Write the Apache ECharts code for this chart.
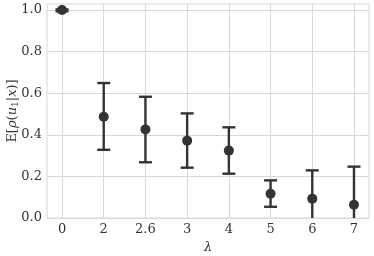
<!DOCTYPE html>
<html><head><meta charset="utf-8">
<script src="https://cdn.jsdelivr.net/npm/echarts@6/dist/echarts.min.js"></script>
<style>html,body{margin:0;padding:0;background:#fff}#c{width:374px;height:256px}</style>
</head><body><div id="c"></div>
<script>
const categories = ['0', '2', '2.6', '3', '4', '5', '6', '7'];
const means = [1.0, 0.487, 0.426, 0.372, 0.324, 0.117, 0.093, 0.064];
const lowers = [0.994, 0.328, 0.268, 0.242, 0.213, 0.054, -0.04, -0.12];
const uppers = [1.003, 0.649, 0.583, 0.503, 0.436, 0.181, 0.229, 0.247];
const yTicks = ['0.0', '0.2', '0.4', '0.6', '0.8', '1.0'];

const chart = echarts.init(document.getElementById('c'), null, {renderer: 'canvas'});
const FONT = '"DejaVu Serif", serif';
const GRID = '#d8d8d8';
const DARK = '#333333';
const pts = means.map((m, i) => [i, m]);
const bars = means.map((m, i) => [i, lowers[i], uppers[i]]);
const xPos = categories.map((c, i) => i);
const yPos = yTicks.map(t => parseFloat(t));

chart.setOption({
  animation: false,
  backgroundColor: '#fff',
  grid: {left: 47, right: 5, top: 4, bottom: 38, show: true, borderColor: GRID, borderWidth: 1,
         containLabel: false, outerBoundsMode: 'none'},
  xAxis: {
    type: 'value', min: -0.36, max: 7.36,
    name: 'λ', nameLocation: 'middle', nameGap: 23, nameMoveOverlap: false,
    nameTextStyle: {fontFamily: FONT, fontStyle: 'italic', fontSize: 13, color: DARK},
    axisLine: {show: true, lineStyle: {color: GRID}},
    axisTick: {show: false, customValues: xPos},
    splitLine: {show: true, customValues: xPos, lineStyle: {color: GRID, width: 1}},
    axisLabel: {
      fontFamily: FONT, fontSize: 13, color: DARK, margin: 5, customValues: xPos,
      formatter: v => categories[Math.round(v)]
    }
  },
  yAxis: {
    type: 'value', min: 0, max: 1.029,
    name: '{n|E[}{i|ρ}{n|(}{i|u}{s|1}{n||}{i|x}{n|)]}', nameLocation: 'middle', nameGap: 27, nameRotate: 90,
    nameMoveOverlap: false,
    nameTextStyle: {fontFamily: FONT, fontSize: 13, color: DARK,
      rich: {n: {fontFamily: FONT, fontSize: 13, color: DARK},
             i: {fontFamily: FONT, fontStyle: 'italic', fontSize: 13, color: DARK},
             s: {fontFamily: FONT, fontSize: 9, color: DARK, padding: [6, 0, 0, 0]}}},
    axisLine: {show: true, lineStyle: {color: GRID}},
    axisTick: {show: false, customValues: yPos},
    splitLine: {show: true, customValues: yPos, lineStyle: {color: GRID, width: 1}},
    axisLabel: {
      fontFamily: FONT, fontSize: 13, color: DARK, margin: 5, customValues: yPos,
      formatter: v => yTicks[Math.round(v / 0.2)]
    }
  },
  series: [
    {
      type: 'custom', clip: true, data: bars,
      renderItem: (params, api) => {
        const x = api.value(0);
        const lo = api.coord([x, api.value(1)]);
        const hi = api.coord([x, api.value(2)]);
        const cw = 6.5;
        const st = {stroke: DARK, lineWidth: 2.4};
        return {type: 'group', children: [
          {type: 'line', shape: {x1: lo[0], y1: lo[1], x2: hi[0], y2: hi[1]}, style: st},
          {type: 'line', shape: {x1: lo[0] - cw, y1: lo[1], x2: lo[0] + cw, y2: lo[1]}, style: st},
          {type: 'line', shape: {x1: hi[0] - cw, y1: hi[1], x2: hi[0] + cw, y2: hi[1]}, style: st}
        ]};
      },
      z: 2
    },
    {
      type: 'scatter', data: pts, symbol: 'circle', symbolSize: 10,
      itemStyle: {color: DARK, opacity: 1}, z: 3
    }
  ]
});
</script></body></html>
